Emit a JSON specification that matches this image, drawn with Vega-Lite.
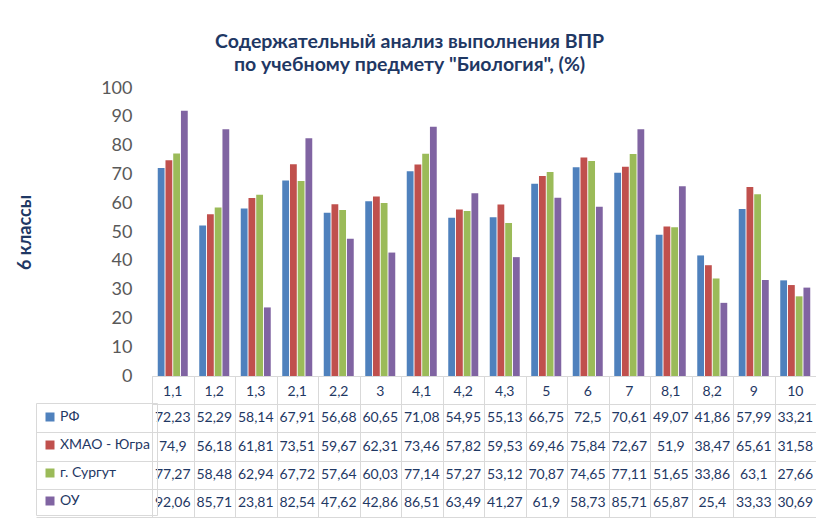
{
  "$schema": "https://vega.github.io/schema/vega-lite/v6.json",
  "padding": {"left": 16, "top": 31, "right": 0, "bottom": 0},
  "autosize": {"type": "pad"},
  "background": "white",
  "config": {
    "font": "Lato",
    "locale": {"number": {"decimal": ",", "thousands": "\u00a0", "grouping": [3], "currency": ["", ""]}},
    "concat": {"spacing": 0}
  },
  "title": {
    "text": ["Содержательный анализ выполнения ВПР", "по учебному предмету \"Биология\", (%)"],
    "font": "Lato", "fontSize": 19.5, "fontWeight": "bold", "color": "#1F3864",
    "anchor": "middle", "frame": "bounds", "lineHeight": 23, "offset": 4, "dx": -7
  },
  "datasets": {
    "t": [
      {"c": "1,1", "s": "РФ", "v": 72.23}, {"c": "1,1", "s": "ХМАО - Югра", "v": 74.9}, {"c": "1,1", "s": "г. Сургут", "v": 77.27}, {"c": "1,1", "s": "ОУ", "v": 92.06},
      {"c": "1,2", "s": "РФ", "v": 52.29}, {"c": "1,2", "s": "ХМАО - Югра", "v": 56.18}, {"c": "1,2", "s": "г. Сургут", "v": 58.48}, {"c": "1,2", "s": "ОУ", "v": 85.71},
      {"c": "1,3", "s": "РФ", "v": 58.14}, {"c": "1,3", "s": "ХМАО - Югра", "v": 61.81}, {"c": "1,3", "s": "г. Сургут", "v": 62.94}, {"c": "1,3", "s": "ОУ", "v": 23.81},
      {"c": "2,1", "s": "РФ", "v": 67.91}, {"c": "2,1", "s": "ХМАО - Югра", "v": 73.51}, {"c": "2,1", "s": "г. Сургут", "v": 67.72}, {"c": "2,1", "s": "ОУ", "v": 82.54},
      {"c": "2,2", "s": "РФ", "v": 56.68}, {"c": "2,2", "s": "ХМАО - Югра", "v": 59.67}, {"c": "2,2", "s": "г. Сургут", "v": 57.64}, {"c": "2,2", "s": "ОУ", "v": 47.62},
      {"c": "3", "s": "РФ", "v": 60.65}, {"c": "3", "s": "ХМАО - Югра", "v": 62.31}, {"c": "3", "s": "г. Сургут", "v": 60.03}, {"c": "3", "s": "ОУ", "v": 42.86},
      {"c": "4,1", "s": "РФ", "v": 71.08}, {"c": "4,1", "s": "ХМАО - Югра", "v": 73.46}, {"c": "4,1", "s": "г. Сургут", "v": 77.14}, {"c": "4,1", "s": "ОУ", "v": 86.51},
      {"c": "4,2", "s": "РФ", "v": 54.95}, {"c": "4,2", "s": "ХМАО - Югра", "v": 57.82}, {"c": "4,2", "s": "г. Сургут", "v": 57.27}, {"c": "4,2", "s": "ОУ", "v": 63.49},
      {"c": "4,3", "s": "РФ", "v": 55.13}, {"c": "4,3", "s": "ХМАО - Югра", "v": 59.53}, {"c": "4,3", "s": "г. Сургут", "v": 53.12}, {"c": "4,3", "s": "ОУ", "v": 41.27},
      {"c": "5", "s": "РФ", "v": 66.75}, {"c": "5", "s": "ХМАО - Югра", "v": 69.46}, {"c": "5", "s": "г. Сургут", "v": 70.87}, {"c": "5", "s": "ОУ", "v": 61.9},
      {"c": "6", "s": "РФ", "v": 72.5}, {"c": "6", "s": "ХМАО - Югра", "v": 75.84}, {"c": "6", "s": "г. Сургут", "v": 74.65}, {"c": "6", "s": "ОУ", "v": 58.73},
      {"c": "7", "s": "РФ", "v": 70.61}, {"c": "7", "s": "ХМАО - Югра", "v": 72.67}, {"c": "7", "s": "г. Сургут", "v": 77.11}, {"c": "7", "s": "ОУ", "v": 85.71},
      {"c": "8,1", "s": "РФ", "v": 49.07}, {"c": "8,1", "s": "ХМАО - Югра", "v": 51.9}, {"c": "8,1", "s": "г. Сургут", "v": 51.65}, {"c": "8,1", "s": "ОУ", "v": 65.87},
      {"c": "8,2", "s": "РФ", "v": 41.86}, {"c": "8,2", "s": "ХМАО - Югра", "v": 38.47}, {"c": "8,2", "s": "г. Сургут", "v": 33.86}, {"c": "8,2", "s": "ОУ", "v": 25.4},
      {"c": "9", "s": "РФ", "v": 57.99}, {"c": "9", "s": "ХМАО - Югра", "v": 65.61}, {"c": "9", "s": "г. Сургут", "v": 63.1}, {"c": "9", "s": "ОУ", "v": 33.33},
      {"c": "10", "s": "РФ", "v": 33.21}, {"c": "10", "s": "ХМАО - Югра", "v": 31.58}, {"c": "10", "s": "г. Сургут", "v": 27.66}, {"c": "10", "s": "ОУ", "v": 30.69}
    ]
  },
  "bounds": "flush",
  "spacing": 0,
  "vconcat": [
    {
      "width": 664,
      "height": 288,
      "data": {"name": "t"},
      "view": {"stroke": null},
      "mark": {"type": "bar"},
      "encoding": {
        "x": {
          "field": "c", "type": "nominal", "sort": null,
          "scale": {"paddingInner": 0.277, "paddingOuter": 0.1385},
          "axis": {"title": null, "labelAngle": 0, "ticks": false, "domain": false, "labelPadding": 8,
                   "labelFontSize": 14, "labelColor": "#1F3864", "labelFont": "Lato"}
        },
        "xOffset": {
          "field": "s", "type": "nominal",
          "scale": {"domain": ["РФ", "ХМАО - Югра", "г. Сургут", "ОУ"], "paddingInner": 0.12}
        },
        "y": {
          "field": "v", "type": "quantitative",
          "scale": {"domain": [0, 100], "nice": false},
          "axis": {"values": [0, 10, 20, 30, 40, 50, 60, 70, 80, 90, 100], "grid": false, "domain": false, "ticks": false,
                   "labelFontSize": 18, "labelColor": "#595959", "labelPadding": 20, "labelFont": "Lato",
                   "title": "6 классы", "titleFontSize": 18, "titleFontWeight": "bold", "titleColor": "#1F3864",
                   "titlePadding": 66, "titleFont": "Lato"}
        },
        "color": {
          "field": "s", "type": "nominal",
          "scale": {"domain": ["РФ", "ХМАО - Югра", "г. Сургут", "ОУ"], "range": ["#4F81BD", "#C0504D", "#9BBB59", "#8064A2"]},
          "legend": {"orient": "none", "legendX": -116, "legendY": 315, "title": null, "symbolType": "square",
                     "symbolSize": 81, "symbolStrokeWidth": 0, "labelFontSize": 14, "labelColor": "#1F3864",
                     "labelFont": "Lato", "labelOffset": 3, "rowPadding": 14, "padding": 7, "strokeColor": "#d9d9d9"}
        }
      }
    },
    {
      "width": 664,
      "height": 141,
      "data": {"name": "t"},
      "view": {"stroke": "#d9d9d9"},
      "mark": {"type": "text", "fontSize": 14, "color": "#1F3864", "font": "Lato"},
      "encoding": {
        "x": {
          "field": "c", "type": "nominal", "sort": null,
          "scale": {"paddingInner": 0, "paddingOuter": 0},
          "axis": {"title": null, "labels": false, "ticks": false, "domain": false, "grid": true, "gridColor": "#d9d9d9", "tickBand": "extent"}
        },
        "y": {
          "field": "s", "type": "nominal",
          "scale": {"domain": ["hdr", "РФ", "ХМАО - Югра", "г. Сургут", "ОУ"], "paddingInner": 0, "paddingOuter": 0},
          "axis": {"title": null, "labels": false, "domain": false, "ticks": true, "tickSize": 116,
                   "tickColor": {"condition": {"test": "datum.extra || datum.value === 'hdr'", "value": "transparent"}, "value": "#d9d9d9"},
                   "grid": true, "gridColor": "#d9d9d9", "tickBand": "extent"}
        },
        "text": {"field": "v", "type": "quantitative", "format": ".2~f"}
      }
    }
  ]
}
